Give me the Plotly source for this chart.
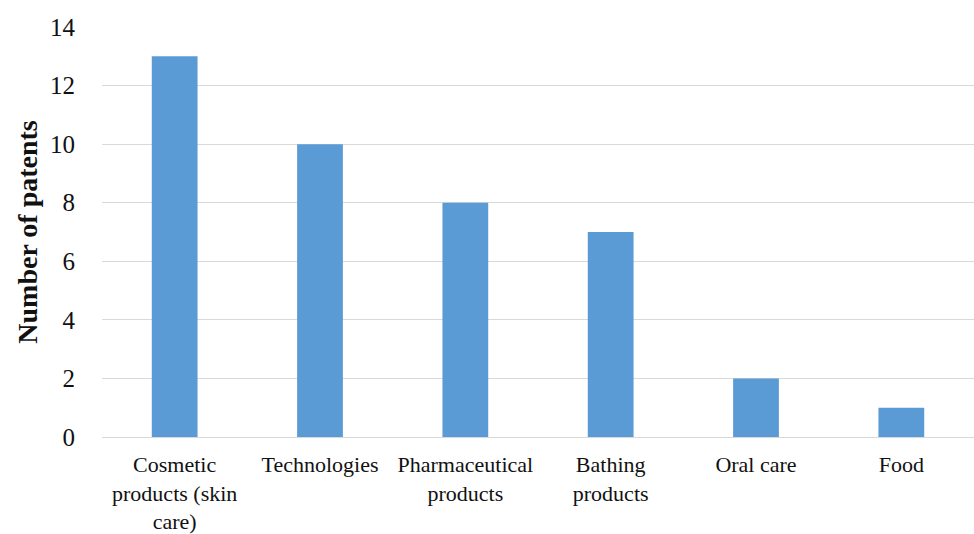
import plotly.graph_objects as go

categories = ["Cosmetic<br>products (skin<br>care)", "Technologies", "Pharmaceutical<br>products",
              "Bathing<br>products", "Oral care", "Food"]
patents = [13, 10, 8, 7, 2, 1]
y_ticks = [0, 2, 4, 6, 8, 10, 12, 14]

font_family = "Liberation Serif, DejaVu Serif, serif"

fig = go.Figure(go.Bar(x=categories, y=patents, marker=dict(color="#5b9bd5", line=dict(width=0))))

fig.update_layout(
    width=974, height=534,
    margin=dict(l=102, r=0, t=27, b=97),
    paper_bgcolor="white", plot_bgcolor="white",
    bargap=0.685,
    showlegend=False,
    font=dict(family=font_family, color="#111111"),
)
fig.update_xaxes(
    tickfont=dict(size=22, family=font_family),
    showgrid=False, showline=False, ticks="",
    ticklabelstandoff=12,
)
fig.update_yaxes(
    range=[0, 14], tickvals=y_ticks,
    tickfont=dict(size=25, family=font_family),
    showgrid=True, gridcolor="#d9d9d9", gridwidth=1.3,
    zeroline=True, zerolinecolor="#d9d9d9", zerolinewidth=1.3,
    showline=False, ticks="", ticklabelstandoff=26,
    title=dict(text="<b>Number of patents</b>", font=dict(size=28, family=font_family), standoff=4),
)

fig.write_html("out.html")
